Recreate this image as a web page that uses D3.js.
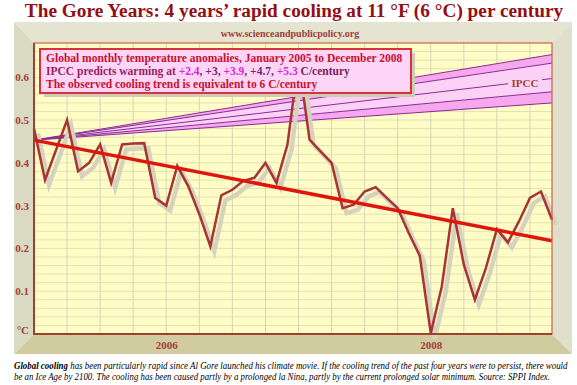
<!DOCTYPE html>
<html>
<head>
<meta charset="utf-8">
<script src="https://cdn.jsdelivr.net/npm/d3@7"></script>
<style>
  body { margin: 0; background: #fff; }
  svg { display: block; font-family: "Liberation Serif", "Times New Roman", serif; }
</style>
</head>
<body>
<svg class="gore" width="577" height="385"></svg>
<script>
// monthly categories, Jan 2005 .. Dec 2008
var months = [
  "2005-01","2005-02","2005-03","2005-04","2005-05","2005-06","2005-07","2005-08","2005-09","2005-10","2005-11","2005-12",
  "2006-01","2006-02","2006-03","2006-04","2006-05","2006-06","2006-07","2006-08","2006-09","2006-10","2006-11","2006-12",
  "2007-01","2007-02","2007-03","2007-04","2007-05","2007-06","2007-07","2007-08","2007-09","2007-10","2007-11","2007-12",
  "2008-01","2008-02","2008-03","2008-04","2008-05","2008-06","2008-07","2008-08","2008-09","2008-10","2008-11","2008-12"
];

// global monthly temperature anomaly (°C)
var anomaly = [
  0.48, 0.36, 0.43, 0.50, 0.38, 0.40, 0.443, 0.353, 0.443, 0.445, 0.446, 0.318,
  0.30, 0.393, 0.345, 0.28, 0.205, 0.324, 0.337, 0.358, 0.365, 0.40, 0.353, 0.443,
  0.64, 0.454, 0.427, 0.40, 0.294, 0.302, 0.333, 0.343, 0.318, 0.294, 0.236, 0.183,
  0.002, 0.111, 0.294, 0.162, 0.08, 0.154, 0.245, 0.214, 0.263, 0.318, 0.333, 0.267
];

// observed cooling trend, start and end
var trendMonths = ["2005-01", "2008-12"];
var trendValues = [0.453, 0.218];

// IPCC projections, C/century, with their end values (all start at trend start)
var ipccRates = ["+2.4", "+3", "+3.9", "+4.7", "+5.3"];
var ipccStart = 0.453;
var ipccEnd = [0.54, 0.566, 0.597, 0.633, 0.653];

var yTicks = [0, 0.1, 0.2, 0.3, 0.4, 0.5, 0.6];
var yearTicks = ["2006-01", "2008-01"];
var yearLabels = ["2006", "2008"];

(function () {

    'use strict';

    var svg = d3.select("svg.gore");
    var pl = 34, pr = 552, pt = 43, pb = 334;

    var x = d3.scalePoint().domain(months).range([pl, pr]);
    var y = d3.scaleLinear().domain([0, 0.68]).range([pb, pt]);

    // squeeze a text horizontally so it spans w pixels from (tx, ty)
    function fitWidth(t, tx, ty, w) {
        var len = t.node().getComputedTextLength();
        t.attr("x", 0).attr("y", 0)
            .attr("transform", "translate(" + tx + "," + ty + ") scale(" + (w / len) + ",1)");
    }

    // title
    svg.append("text")
        .attr("x", 294).attr("y", 17)
        .attr("text-anchor", "middle")
        .attr("font-size", 19.3).attr("font-weight", "bold")
        .attr("fill", "#930f12")
        .text("The Gore Years: 4 years\u2019 rapid cooling at 11 \u00b0F (6 \u00b0C) per century");

    // 3D frame
    var o = { l: 14, r: 572, t: 22, b: 354 };
    var walls = [
        { c: "#e4e4d0", p: [[o.l, o.t], [o.r, o.t], [pr, pt], [pl, pt]] },
        { c: "#dadac3", p: [[o.l, o.t], [pl, pt], [pl, pb], [o.l, o.b]] },
        { c: "#dfdfcb", p: [[o.r, o.t], [o.r, o.b], [pr, pb], [pr, pt]] },
        { c: "#d0cc9f", p: [[o.l, o.b], [pl, pb], [pr, pb], [o.r, o.b]] }
    ];
    svg.append("g").selectAll("polygon")
        .data(walls)
        .enter().append("polygon")
        .attr("points", function (d) { return d.p.join(" "); })
        .attr("fill", function (d) { return d.c; });

    svg.append("text")
        .attr("x", 290).attr("y", 37)
        .attr("text-anchor", "middle")
        .attr("font-size", 10).attr("font-weight", "bold")
        .attr("fill", "#a0403a")
        .text("www.scienceandpublicpolicy.org");

    // plot background
    svg.append("rect")
        .attr("x", pl).attr("y", pt)
        .attr("width", pr - pl).attr("height", pb - pt)
        .attr("fill", "#fffcc6");

    // grid
    var grid = svg.append("g");
    grid.selectAll("line.h")
        .data(d3.range(0.02, 0.68, 0.02))
        .enter().append("line")
        .attr("x1", pl).attr("x2", pr)
        .attr("y1", function (d) { return y(d); }).attr("y2", function (d) { return y(d); })
        .attr("stroke", "#e2e2b4").attr("stroke-width", 1);
    grid.selectAll("line.v")
        .data(months.filter(function (d, i) { return i % 3 === 0 && i > 0; }))
        .enter().append("line")
        .attr("x1", function (d) { return x(d); }).attr("x2", function (d) { return x(d); })
        .attr("y1", pt).attr("y2", pb)
        .attr("stroke", "#d6d6b8").attr("stroke-width", 1);

    // IPCC fan
    var x0 = x(trendMonths[0]), x1 = x(trendMonths[1]);
    var bandFill = ["#f5a8ed", "#fbd2f6", "#fbd2f6", "#f5a8ed"];
    var fan = svg.append("g");
    fan.selectAll("polygon")
        .data(d3.range(ipccEnd.length - 1))
        .enter().append("polygon")
        .attr("points", function (i) {
            return [[x0, y(ipccStart)], [x1, y(ipccEnd[i])], [x1, y(ipccEnd[i + 1])]].join(" ");
        })
        .attr("fill", function (i) { return bandFill[i]; });
    fan.selectAll("line")
        .data(ipccEnd)
        .enter().append("line")
        .attr("x1", x0).attr("y1", y(ipccStart))
        .attr("x2", x1).attr("y2", function (d) { return y(d); })
        .attr("stroke", "#8a2c98").attr("stroke-width", 1);

    // IPCC label on middle line
    var lx = 525, ly = y(ipccStart) + (y(ipccEnd[2]) - y(ipccStart)) * (lx - x0) / (x1 - x0);
    fan.append("rect")
        .attr("x", lx - 17).attr("y", ly - 6).attr("width", 34).attr("height", 12)
        .attr("fill", "#fbd2f6");
    fan.append("text")
        .attr("x", lx).attr("y", ly + 5)
        .attr("text-anchor", "middle")
        .attr("font-size", 11).attr("font-weight", "bold")
        .attr("fill", "#a0403a")
        .text("IPCC");

    // data line + shadow
    var line = d3.line()
        .x(function (d, i) { return x(months[i]); })
        .y(function (d) { return y(d); });

    svg.append("path")
        .datum(anomaly)
        .attr("transform", "translate(4,5)")
        .attr("d", line)
        .attr("fill", "none")
        .attr("stroke", "#d6d3bd").attr("stroke-width", 4.5);

    svg.append("path")
        .datum(anomaly)
        .attr("d", line)
        .attr("fill", "none")
        .attr("stroke", "#a83434").attr("stroke-width", 2.5);

    // cooling trend
    svg.append("line")
        .attr("x1", x(trendMonths[0])).attr("y1", y(trendValues[0]))
        .attr("x2", x(trendMonths[1])).attr("y2", y(trendValues[1]))
        .attr("stroke", "#e0150c").attr("stroke-width", 3.5);

    // plot border
    svg.append("rect")
        .attr("x", pl).attr("y", pt)
        .attr("width", pr - pl).attr("height", pb - pt)
        .attr("fill", "none")
        .attr("stroke", "#d0604a").attr("stroke-width", 1.2);
    svg.append("path")
        .attr("d", "M" + pl + "," + pt + "V" + pb + "H" + pr)
        .attr("fill", "none")
        .attr("stroke", "#a0402e").attr("stroke-width", 2);

    // axes
    var yAxis = svg.append("g")
        .attr("transform", "translate(" + (pl - 2) + ",0)")
        .call(d3.axisLeft(y).tickValues(yTicks).tickSize(0)
            .tickFormat(function (d) { return d === 0 ? "\u00b0C" : d3.format(".1f")(d); }));
    yAxis.select(".domain").remove();
    yAxis.selectAll("text")
        .attr("font-family", "Liberation Serif, serif")
        .attr("font-size", 11).attr("font-weight", "bold")
        .attr("fill", "#a0403a");
    yAxis.selectAll("text").filter(function (d) { return d === 0; })
        .attr("dy", "-0.05em");

    var xAxis = svg.append("g")
        .attr("transform", "translate(0," + pb + ")")
        .call(d3.axisBottom(x).tickValues(yearTicks).tickSize(0).tickPadding(7)
            .tickFormat(function (d, i) { return yearLabels[i]; }));
    xAxis.select(".domain").remove();
    xAxis.selectAll("text")
        .attr("font-family", "Liberation Serif, serif")
        .attr("font-size", 11).attr("font-weight", "bold")
        .attr("fill", "#a0403a");

    // legend box
    var lg = svg.append("g");
    lg.append("rect")
        .attr("x", 44).attr("y", 53).attr("width", 371).attr("height", 44)
        .attr("fill", "#cfcbb6");
    lg.append("rect")
        .attr("x", 40).attr("y", 49).attr("width", 371).attr("height", 44)
        .attr("fill", "#fdd5f6")
        .attr("stroke", "#d8323a").attr("stroke-width", 2);

    var fs = 11.5;
    lg.append("text").attr("x", 46).attr("y", 62)
        .attr("font-size", fs).attr("font-weight", "bold").attr("fill", "#c8102e")
        .text("Global monthly temperature anomalies, January 2005 to December 2008");

    var rateColor = ["#d62ad6", "#6e2a72", "#d62ad6", "#6e2a72", "#d62ad6"];
    var l2 = lg.append("text").attr("x", 46).attr("y", 75)
        .attr("font-size", fs).attr("font-weight", "bold");
    l2.append("tspan").attr("fill", "#9a1f63").text("IPCC predicts warming at ");
    ipccRates.forEach(function (r, i) {
        l2.append("tspan").attr("fill", rateColor[i]).text(r);
        l2.append("tspan").attr("fill", "#6e2a72").text(i < ipccRates.length - 1 ? ", " : " ");
    });
    l2.append("tspan").attr("fill", "#7a2260").text("C/century");

    lg.append("text").attr("x", 46).attr("y", 88)
        .attr("font-size", fs).attr("font-weight", "bold").attr("fill", "#c8102e")
        .text("The observed cooling trend is equivalent to 6 C/century");

    // caption
    var c1 = svg.append("text")
        .attr("font-size", 9.5).attr("font-style", "italic").attr("fill", "#000");
    c1.append("tspan").attr("font-weight", "bold").text("Global cooling");
    c1.append("tspan").text(" has been particularly rapid since Al Gore launched his climate movie. If the cooling trend of the past four years were to persist, there would");
    fitWidth(c1, 14, 369, 554);

    var c2 = svg.append("text")
        .attr("font-size", 9.5).attr("font-style", "italic").attr("fill", "#000")
        .text("be an Ice Age by 2100. The cooling has been caused partly by a prolonged la Nina, partly by the current prolonged solar minimum. Source: SPPI Index.");
    fitWidth(c2, 14, 380, 537);
})();
</script>
</body>
</html>
